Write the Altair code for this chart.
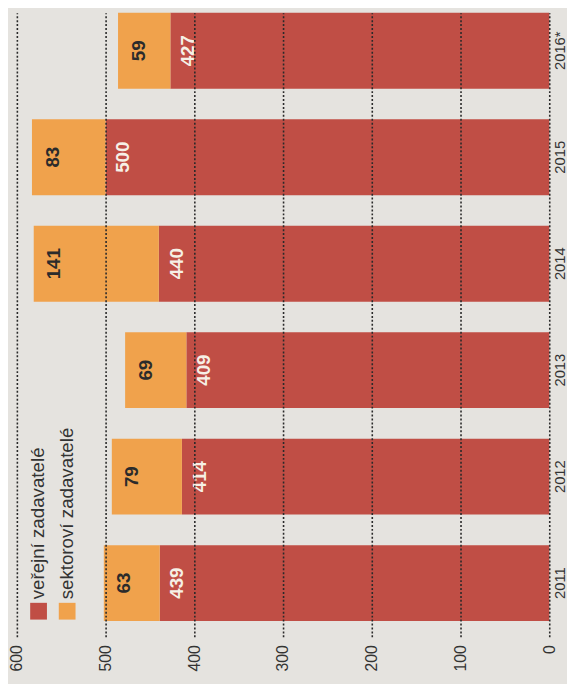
import altair as alt
import pandas as pd

# ---- data ----
years = ["2011", "2012", "2013", "2014", "2015", "2016*"]
verejni = [439, 414, 409, 440, 500, 427]      # veřejní zadavatelé
sektorovi = [63, 79, 69, 141, 83, 59]         # sektoroví zadavatelé
series = ["veřejní zadavatelé", "sektoroví zadavatelé"]
colors = ["#C04E45", "#F0A24C"]
ticks = [0, 100, 200, 300, 400, 500, 600]

rows = []
for y, a, b in zip(years, verejni, sektorovi):
    rows.append({"year": y, "series": series[0], "start": 0, "end": a, "value": a})
    rows.append({"year": y, "series": series[1], "start": a, "end": a + b, "value": b})
df = pd.DataFrame(rows)

FONT = "Liberation Sans"
x_scale = alt.Scale(domain=[0, 600], reverse=True, nice=False)
y_scale = alt.Scale(paddingInner=0.287, paddingOuter=0.074, align=0)
y_sort = list(reversed(years))
color_scale = alt.Scale(domain=series, range=colors)

base = alt.Chart(df)

bars = base.mark_bar().encode(
    x=alt.X("start:Q", scale=x_scale,
            axis=alt.Axis(values=ticks, title=None, grid=True, domain=False, ticks=False,
                          labelAngle=270, labelAlign="right", labelBaseline="middle",
                          labelPadding=8, labelFontSize=16, labelFont=FONT, labelColor="#333333",
                          gridColor="#2a2a2a", gridDash=[2, 2], gridWidth=1.6, gridOpacity=1,
                          zindex=1)),
    x2="end:Q",
    y=alt.Y("year:N", sort=y_sort, scale=y_scale,
            axis=alt.Axis(orient="right", title=None, domain=False, ticks=False, grid=False,
                          labelAngle=270, labelAlign="center", labelBaseline="top",
                          labelPadding=3, labelFontSize=15, labelFont=FONT, labelColor="#333333")),
    color=alt.Color("series:N", scale=color_scale, legend=None),
)

red_txt = base.transform_filter(alt.datum.series == series[0]).mark_text(
    angle=270, align="center", baseline="top", dy=9, fontSize=19, font=FONT,
    fontWeight="bold", color="#F6F0E6"
).encode(x=alt.X("end:Q", scale=x_scale), y=alt.Y("year:N", sort=y_sort), text="value:Q")

or_txt = base.transform_filter(alt.datum.series == series[1]).mark_text(
    angle=270, align="center", baseline="top", dy=12, fontSize=19, font=FONT,
    fontWeight="bold", color="#2B2B2B"
).encode(x=alt.X("end:Q", scale=x_scale), y=alt.Y("year:N", sort=y_sort), text="value:Q")

legend_layers = []
for i, name in enumerate(series):
    ldf = pd.DataFrame({"series": [name]})
    legend_layers.append(
        alt.Chart(ldf).mark_square(size=289, opacity=1).encode(
            x=alt.value(22 + 29 * i), y=alt.value(607),
            color=alt.Color("series:N", scale=color_scale, legend=None))
    )
    legend_layers.append(
        alt.Chart(ldf).mark_text(angle=270, align="left", baseline="middle", fontSize=19,
                                 font=FONT, color="#333333").encode(
            x=alt.value(22 + 29 * i), y=alt.value(595), text="series:N")
    )

chart = alt.layer(bars, red_txt, or_txt, *legend_layers).properties(
    width=540, height=633, autosize="none",
    padding={"left": 9, "top": 0, "right": 18, "bottom": 43},
    background="#E5E3DF",
).configure_view(stroke=None)

chart.save("out.html", embed_options={"renderer": "svg", "actions": False})
